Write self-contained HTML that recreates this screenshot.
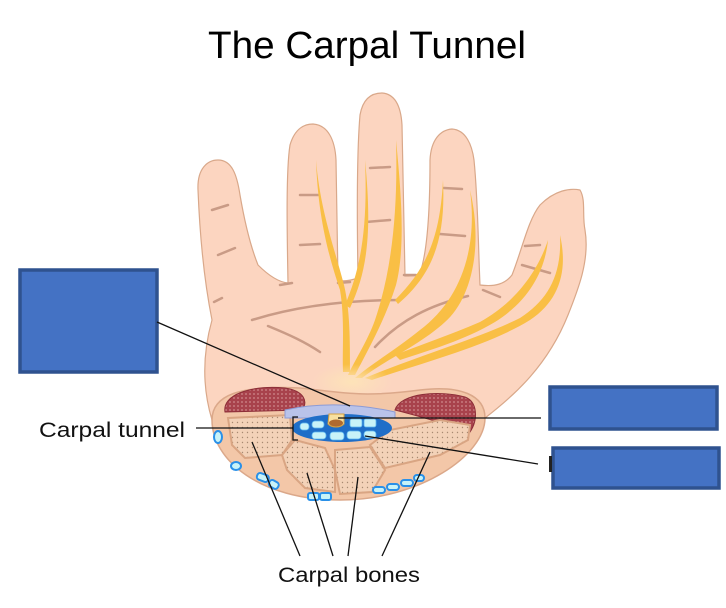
<!DOCTYPE html>
<html><head><style>
html,body{margin:0;padding:0;background:#fff;}
svg{display:block;}
text{font-family:"Liberation Sans",sans-serif;}
</style></head><body>
<svg width="726" height="608" viewBox="0 0 726 608" xmlns="http://www.w3.org/2000/svg">
<defs>
<pattern id="dots" width="5" height="5" patternUnits="userSpaceOnUse"><rect width="5" height="5" fill="#f3d2b8"/><circle cx="2.5" cy="2.5" r="0.7" fill="#a88a72"/></pattern>
<pattern id="mus" width="4" height="4" patternUnits="userSpaceOnUse"><rect width="4" height="4" fill="#a8424c"/><circle cx="2" cy="2" r="1" fill="#c77a7d"/></pattern>
<radialGradient id="glow" cx="0.5" cy="0.5" r="0.5"><stop offset="0" stop-color="#fde3b8"/><stop offset="1" stop-color="#fde3b8" stop-opacity="0"/></radialGradient>
</defs>
<text x="367" y="58" font-size="38" text-anchor="middle" textLength="318" lengthAdjust="spacingAndGlyphs" fill="#000">The Carpal Tunnel</text>
<!-- hand -->
<path d="M212,420 C200,380 205,345 212,320 C205,285 200,240 198,190 C197,168 208,160 218,160 C232,160 237,175 240,195 C246,230 252,250 258,265 C268,275 278,282 288,283 C287,230 286,170 290,145 C295,128 305,124 313,124 C328,125 335,140 336,160 L338,280 C344,282 352,280 358,278 C357,220 357,150 360,115 C363,98 372,93 382,93 C396,94 401,108 402,125 L405,276 C412,276 418,276 420,273 C428,250 430,200 430,160 C431,140 440,130 452,129 C466,130 472,145 474,160 C478,200 478,240 480,285 C495,287 505,284 512,275 C522,250 528,220 540,205 C555,190 570,188 580,190 C586,200 582,215 585,230 C590,260 578,290 568,315 C548,365 515,395 485,418 Z" fill="#fcd5c0" stroke="#d9a88a" stroke-width="1.2"/>
<!-- creases -->
<g stroke="#c99b86" stroke-width="2.5" fill="none" stroke-linecap="round">
<path d="M212,210 L228,205"/><path d="M218,255 L235,248"/><path d="M214,302 L222,298"/><path d="M280,285 L292,283"/>
<path d="M300,195 L318,195"/><path d="M300,245 L320,244"/><path d="M338,283 L350,282"/>
<path d="M370,168 L390,167"/><path d="M366,222 L390,220"/>
<path d="M444,188 L462,189"/><path d="M440,234 L465,236"/><path d="M404,275 L416,275"/>
<path d="M525,246 L540,245"/><path d="M522,265 L550,273"/><path d="M483,290 L500,297"/>
<path d="M252,320 C300,305 350,300 400,300"/><path d="M268,326 C290,335 305,342 320,352"/>
<path d="M375,347 C400,320 430,305 468,296"/>
</g>
<!-- nerves -->
<g fill="#f9bf45">
<path d="M316,160 C318,220 330,260 340,290 C345,320 342,350 343,372 L350,372 C350,340 350,310 344,285 C335,250 320,210 316,160 Z"/>
<path d="M365,160 C368,230 360,270 345,305 L350,308 C368,270 372,230 365,160 Z"/>
<path d="M396,140 C398,210 392,270 375,320 C368,340 355,360 348,375 L355,375 C368,350 385,320 396,285 C405,250 402,200 396,140 Z"/>
<path d="M443,180 C440,240 425,270 395,300 L398,304 C432,275 446,240 443,180 Z"/>
<path d="M470,190 C478,250 460,300 420,330 C395,350 370,365 355,378 L362,378 C385,360 420,345 445,322 C470,300 484,250 470,190 Z"/>
<path d="M548,240 C540,265 520,300 480,322 C450,335 420,345 395,355 L400,360 C430,350 465,340 495,322 C530,300 545,270 548,240 Z"/>
<path d="M560,235 C562,275 548,300 520,318 C480,338 420,355 365,378 L372,380 C425,362 490,345 530,320 C560,300 568,270 560,235 Z"/>
</g>
<ellipse cx="352" cy="382" rx="40" ry="18" fill="url(#glow)"/>
<!-- wrist section -->
<path d="M212,420 C212,395 240,385 300,388 C340,392 360,398 420,390 C460,385 485,395 485,418 C485,455 420,500 340,500 C260,500 212,460 212,420 Z" fill="#f3c7a8" stroke="#dba88a" stroke-width="1.5"/>
<path d="M225,412 C222,395 250,385 285,388 C305,391 308,402 302,410 Z" fill="url(#mus)" stroke="#8c2e38"/>
<path d="M395,410 C400,393 440,390 465,397 C478,402 478,420 470,432 C450,425 415,415 395,410 Z" fill="url(#mus)" stroke="#8c2e38"/>
<!-- bones -->
<g fill="url(#dots)" stroke="#d9a583" stroke-width="2">
<path d="M228,418 L290,415 L292,440 L282,455 L245,458 L232,445 Z"/>
<path d="M282,455 L295,440 L325,448 L335,470 L335,492 L305,488 L287,470 Z"/>
<path d="M335,450 L370,447 L385,470 L372,492 L340,494 L335,470 Z"/>
<path d="M370,445 L390,430 L440,420 L470,425 L468,440 L440,455 L385,468 Z"/>
</g>
<path d="M285,410 C320,402 360,404 395,412 L395,418 L285,418 Z" fill="#b9c3ea" stroke="#8c9bd5"/>
<ellipse cx="342" cy="428" rx="50" ry="14" fill="#1f6ec8"/>
<g fill="#c8f3f8" stroke="#5fb8f0" stroke-width="0.8">
<rect x="300" y="423" width="9" height="7" rx="3"/><rect x="312" y="421" width="12" height="7" rx="3"/>
<rect x="350" y="419" width="12" height="8" rx="2"/><rect x="364" y="419" width="12" height="8" rx="2"/>
<rect x="312" y="432" width="14" height="7" rx="3"/><rect x="330" y="432" width="14" height="8" rx="3"/><rect x="347" y="431" width="14" height="8" rx="3"/><rect x="364" y="431" width="12" height="7" rx="3"/>
</g>
<path d="M329,414 L344,414 L344,424 C340,428 332,428 328,424 Z" fill="#f7e0a0" stroke="#d4a040"/>
<ellipse cx="336" cy="423" rx="7" ry="3.5" fill="#b06a30"/>
<g fill="#c8f3f8" stroke="#2a90e8" stroke-width="2">
<ellipse cx="218" cy="437" rx="4" ry="6"/><ellipse cx="236" cy="466" rx="5" ry="4"/>
<rect x="257" y="474" width="12" height="7" rx="3" transform="rotate(20 263 477)"/><rect x="269" y="481" width="10" height="7" rx="3" transform="rotate(30 274 484)"/>
<rect x="308" y="493" width="11" height="7" rx="2"/><rect x="320" y="493" width="11" height="7" rx="2"/>
<rect x="373" y="487" width="12" height="6" rx="3"/><rect x="387" y="484" width="12" height="6" rx="3"/><rect x="401" y="480" width="12" height="6" rx="3"/><rect x="414" y="475" width="10" height="6" rx="3"/>
</g>
<!-- boxes -->
<g fill="#4472c4" stroke="#2f528f" stroke-width="3.5">
<rect x="20" y="270" width="137" height="102"/>
<rect x="550" y="387" width="167" height="42"/>
<rect x="553" y="448" width="166" height="40"/>
</g>
<!-- lines -->
<g stroke="#111" stroke-width="1.3" fill="none">
<line x1="157" y1="322" x2="350" y2="406"/>
<line x1="338" y1="418" x2="541" y2="418"/>
<line x1="365" y1="436" x2="538" y2="464"/>
<line x1="196" y1="428" x2="293" y2="428"/>
<path d="M298,417 L293,417 L293,440 L298,440"/>
<line x1="300" y1="556" x2="252" y2="442"/>
<line x1="333" y1="556" x2="307" y2="473"/>
<line x1="348" y1="556" x2="358" y2="477"/>
<line x1="382" y1="556" x2="430" y2="452"/>
</g>
<rect x="549" y="456" width="3" height="16" fill="#222"/>
<text x="39" y="437" font-size="21" textLength="146" lengthAdjust="spacingAndGlyphs" fill="#111">Carpal tunnel</text>
<text x="278" y="582" font-size="21" textLength="142" lengthAdjust="spacingAndGlyphs" fill="#111">Carpal bones</text>
</svg>
</body></html>
